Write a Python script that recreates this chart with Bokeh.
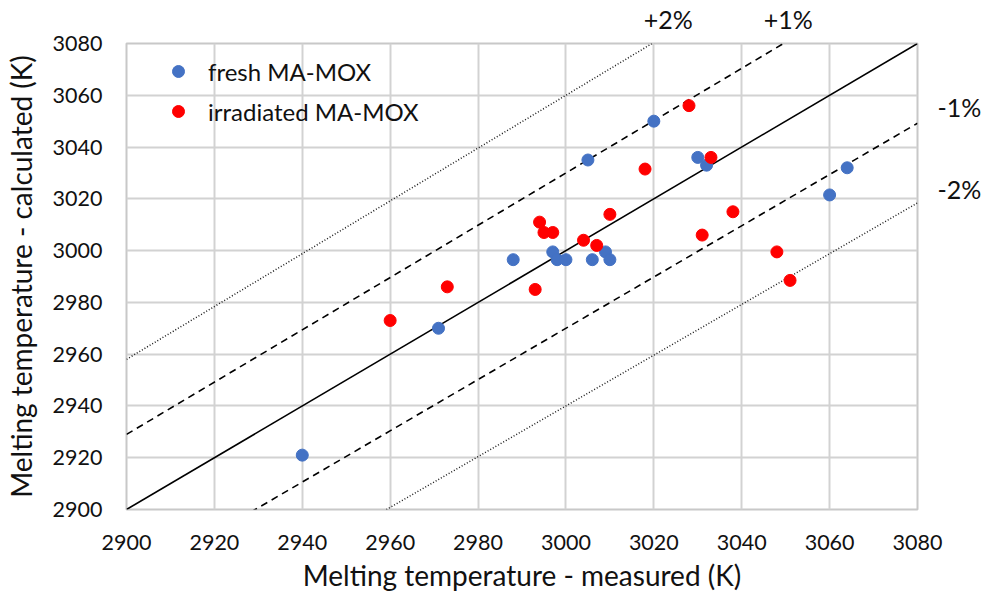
from bokeh.plotting import figure
from bokeh.models import Legend, LegendItem, FixedTicker, Range1d, LinearAxis
from bokeh.embed import file_html
from bokeh.resources import INLINE
import numpy as np

# ---- data ----
fresh_x = [2940, 2971, 2988, 2997, 2998, 3000, 3006, 3009, 3010, 3005, 3020, 3030, 3032, 3060, 3064]
fresh_y = [2921, 2970, 2996.5, 2999.5, 2996.5, 2996.5, 2996.5, 2999.5, 2996.5, 3035, 3050, 3036, 3033, 3021.5, 3032]
irr_x = [2960, 2973, 2993, 2994, 2995, 2997, 3004, 3007, 3010, 3018, 3028, 3033, 3031, 3038, 3048, 3051]
irr_y = [2973, 2986, 2985, 3011, 3007, 3007, 3004, 3002, 3014, 3031.5, 3056, 3036, 3006, 3015, 2999.5, 2988.5]

ticks = [2900, 2920, 2940, 2960, 2980, 3000, 3020, 3040, 3060, 3080]
line_factors = [1.0, 1.01, 0.99, 1.02, 0.98]
line_dashes = ["solid", "7 5", "7 5", "1 2", "1 2"]
top_labels = ["+2%", "+1%"]
top_pos = [3023.3, 3050.6]
right_labels = ["-1%", "-2%"]
right_pos = [3055.4, 3023.9]

FONT = "Lato"
TXT = "#111111"

p = figure(frame_width=791, frame_height=466,
           x_range=Range1d(2900, 3080), y_range=Range1d(2900, 3080),
           min_border_left=120, min_border_top=36, min_border_right=50, min_border_bottom=70,
           output_backend="svg", toolbar_location=None)

p.background_fill_color = "white"
p.border_fill_color = "white"
p.outline_line_color = "#c8c8c8"
p.outline_line_width = 2

for ax in (p.xaxis, p.yaxis):
    ax.ticker = FixedTicker(ticks=ticks)
    ax.axis_line_color = None
    ax.major_tick_line_color = None
    ax.minor_tick_line_color = None
    ax.major_label_text_font = FONT
    ax.major_label_text_font_size = "21.5px"
    ax.major_label_text_color = TXT
    ax.axis_label_text_font = FONT
    ax.axis_label_text_font_size = "28px"
    ax.axis_label_text_font_style = "normal"
    ax.axis_label_text_color = TXT

p.xaxis.axis_label = "Melting temperature - measured (K)"
p.yaxis.axis_label = "Melting temperature - calculated (K)"
p.xaxis.major_label_standoff = 19
p.xaxis.axis_label_standoff = 5
p.yaxis.major_label_standoff = 18
p.yaxis.axis_label_standoff = 12

p.grid.grid_line_color = "#d2d2d2"
p.grid.grid_line_width = 2

# percentage annotations as extra axes (outside the frame)
top_ax = LinearAxis(ticker=FixedTicker(ticks=top_pos),
                    major_label_overrides={v: t for v, t in zip(top_pos, top_labels)})
right_ax = LinearAxis(ticker=FixedTicker(ticks=right_pos),
                      major_label_overrides={v: t for v, t in zip(right_pos, right_labels)})
for ax, so in ((top_ax, 4), (right_ax, 14)):
    ax.axis_line_color = None
    ax.major_tick_line_color = None
    ax.minor_tick_line_color = None
    ax.major_label_text_font = FONT
    ax.major_label_text_font_size = "25px"
    ax.major_label_text_color = TXT
    ax.major_label_standoff = so
p.add_layout(top_ax, "above")
p.add_layout(right_ax, "right")

# reference lines
xl = np.array([ticks[0], ticks[-1]], dtype=float)
for f, d in zip(line_factors, line_dashes):
    if d == "1 2":
        p.line(xl, f * xl, line_color="#1a1a1a", line_width=1.5, line_dash=d)
    else:
        p.line(xl, f * xl, line_color="black", line_width=1.6, line_dash=d)

r1 = p.scatter(fresh_x, fresh_y, size=12, fill_color="#4472C4", line_color="#4472C4")
r2 = p.scatter(irr_x, irr_y, size=12, fill_color="#FF0000", line_color="#FF0000")

legend = Legend(items=[LegendItem(label="fresh MA-MOX", renderers=[r1]),
                       LegendItem(label="irradiated MA-MOX", renderers=[r2])],
                location=(37, 383), padding=5, spacing=10,
                glyph_width=30, glyph_height=30, label_height=30, label_standoff=15,
                label_text_font=FONT, label_text_font_size="24px", label_text_color=TXT,
                border_line_color=None, background_fill_alpha=0)
p.add_layout(legend)

open("out.html", "w").write(file_html(p, INLINE))
